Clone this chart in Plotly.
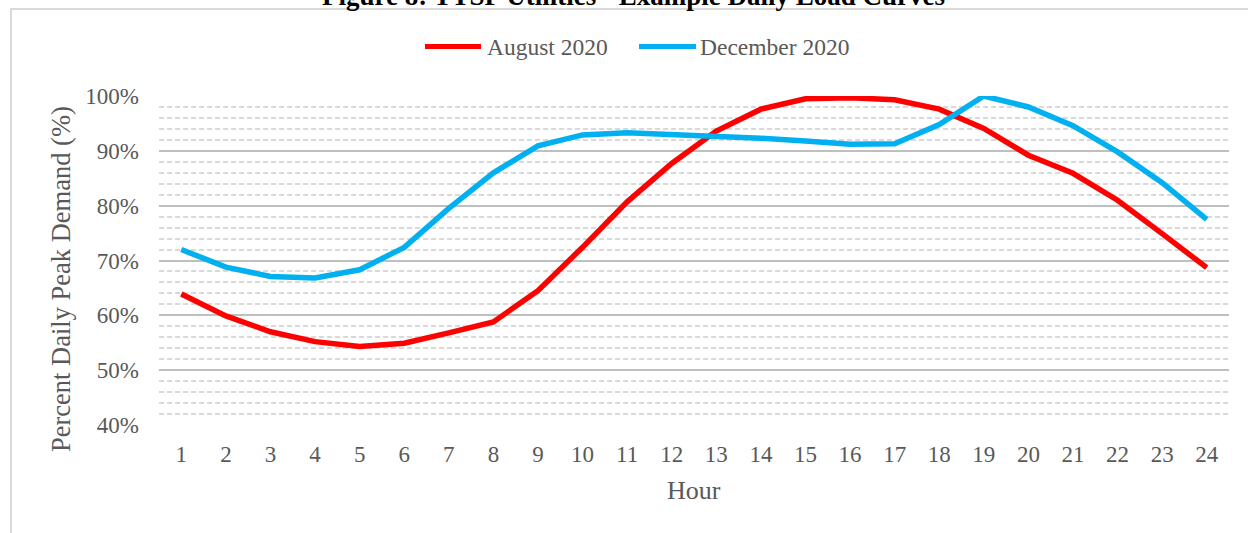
import plotly.graph_objects as go

hours = list(range(1, 25))
hour_labels = [str(h) for h in hours]
august_2020 = [63.9, 59.9, 57.0, 55.2, 54.3, 54.9, 56.8, 58.8, 64.5, 72.4, 80.7, 87.7,
               93.6, 97.6, 99.5, 99.7, 99.3, 97.6, 94.1, 89.2, 85.9, 81.0, 74.9, 68.7]
december_2020 = [72.0, 68.8, 67.1, 66.8, 68.3, 72.4, 79.5, 86.0, 90.9, 92.9, 93.3, 93.0,
                 92.7, 92.3, 91.8, 91.2, 91.3, 94.8, 100.0, 98.0, 94.6, 89.8, 84.2, 77.5]
series_names = ["August 2020", "December 2020"]
series_colors = ["#FF0000", "#00B0F0"]
y_ticks = [40, 50, 60, 70, 80, 90, 100]
y_tick_labels = [f"{v}%" for v in y_ticks]
title_text = "Figure 8: TTSP Utilities - Example Daily Load Curves"
x_title = "Hour"
y_title = "Percent Daily Peak Demand (%)"

W, H = 1248, 533
L, R, T, B = 159, 1229, 96, 425
FONT = "Liberation Serif, Times New Roman, serif"
TXT = "#595959"


def px(x):
    return (x - L) / (R - L)


def py(y):
    return (B - y) / (B - T)


fig = go.Figure()
for name, vals, col in zip(series_names, [august_2020, december_2020], series_colors):
    fig.add_trace(go.Scatter(x=hours, y=vals, mode="lines", name=name,
                             line=dict(color=col, width=5.5), cliponaxis=False,
                             showlegend=False))

fig.update_layout(
    width=W, height=H,
    margin=dict(l=L, r=W - R, t=T, b=H - B, autoexpand=False),
    paper_bgcolor="white", plot_bgcolor="white",
    font=dict(family=FONT, color=TXT, size=23),
    xaxis=dict(range=[0.5, 24.5], tickvals=hours, ticktext=hour_labels,
               showgrid=False, zeroline=False, showline=False, ticks="",
               ticklabelstandoff=13, tickfont=dict(size=23, color=TXT),
               automargin=False),
    yaxis=dict(range=[40, 100], tickvals=y_ticks, ticktext=y_tick_labels,
               showgrid=True, gridcolor="#BFBFBF", gridwidth=1.8,
               zeroline=False, showline=False, ticks="",
               ticklabelstandoff=19, tickfont=dict(size=23, color=TXT),
               minor=dict(dtick=2, tick0=40, showgrid=True, gridcolor="#D9D9D9",
                          gridwidth=1.5, griddash="5px,3px"),
               automargin=False),
)

shapes = [
    dict(type="line", xref="paper", yref="paper", x0=px(10), x1=px(1250),
         y0=py(9), y1=py(9), line=dict(color="#D9D9D9", width=2)),
    dict(type="line", xref="paper", yref="paper", x0=px(11), x1=px(11),
         y0=py(9), y1=py(540), line=dict(color="#D9D9D9", width=2)),
]
legend_items = [(425, 481, 485), (639, 696, 698)]
annotations = [
    dict(text=f"<b>{title_text}</b>", xref="paper", yref="paper",
         x=px(633), y=py(13), xanchor="center", yanchor="bottom",
         showarrow=False, font=dict(size=27, color="black", family=FONT)),
    dict(text=x_title, xref="paper", yref="paper", x=px(694), y=py(490),
         xanchor="center", yanchor="middle", showarrow=False,
         font=dict(size=26, color=TXT, family=FONT)),
    dict(text=y_title, xref="paper", yref="paper", x=px(61), y=py(279),
         xanchor="center", yanchor="middle", textangle=-90, showarrow=False,
         font=dict(size=26.5, color=TXT, family=FONT)),
]
for (x0, x1, xt), name, col in zip(legend_items, series_names, series_colors):
    shapes.append(dict(type="line", xref="paper", yref="paper", x0=px(x0), x1=px(x1),
                       y0=py(46.5), y1=py(46.5), line=dict(color=col, width=5)))
    annotations.append(dict(text=name, xref="paper", yref="paper", x=px(xt), y=py(46.5),
                            xanchor="left", yanchor="middle", showarrow=False,
                            font=dict(size=23.5, color=TXT, family=FONT)))
fig.update_layout(shapes=shapes, annotations=annotations)

fig.write_html("out.html")
